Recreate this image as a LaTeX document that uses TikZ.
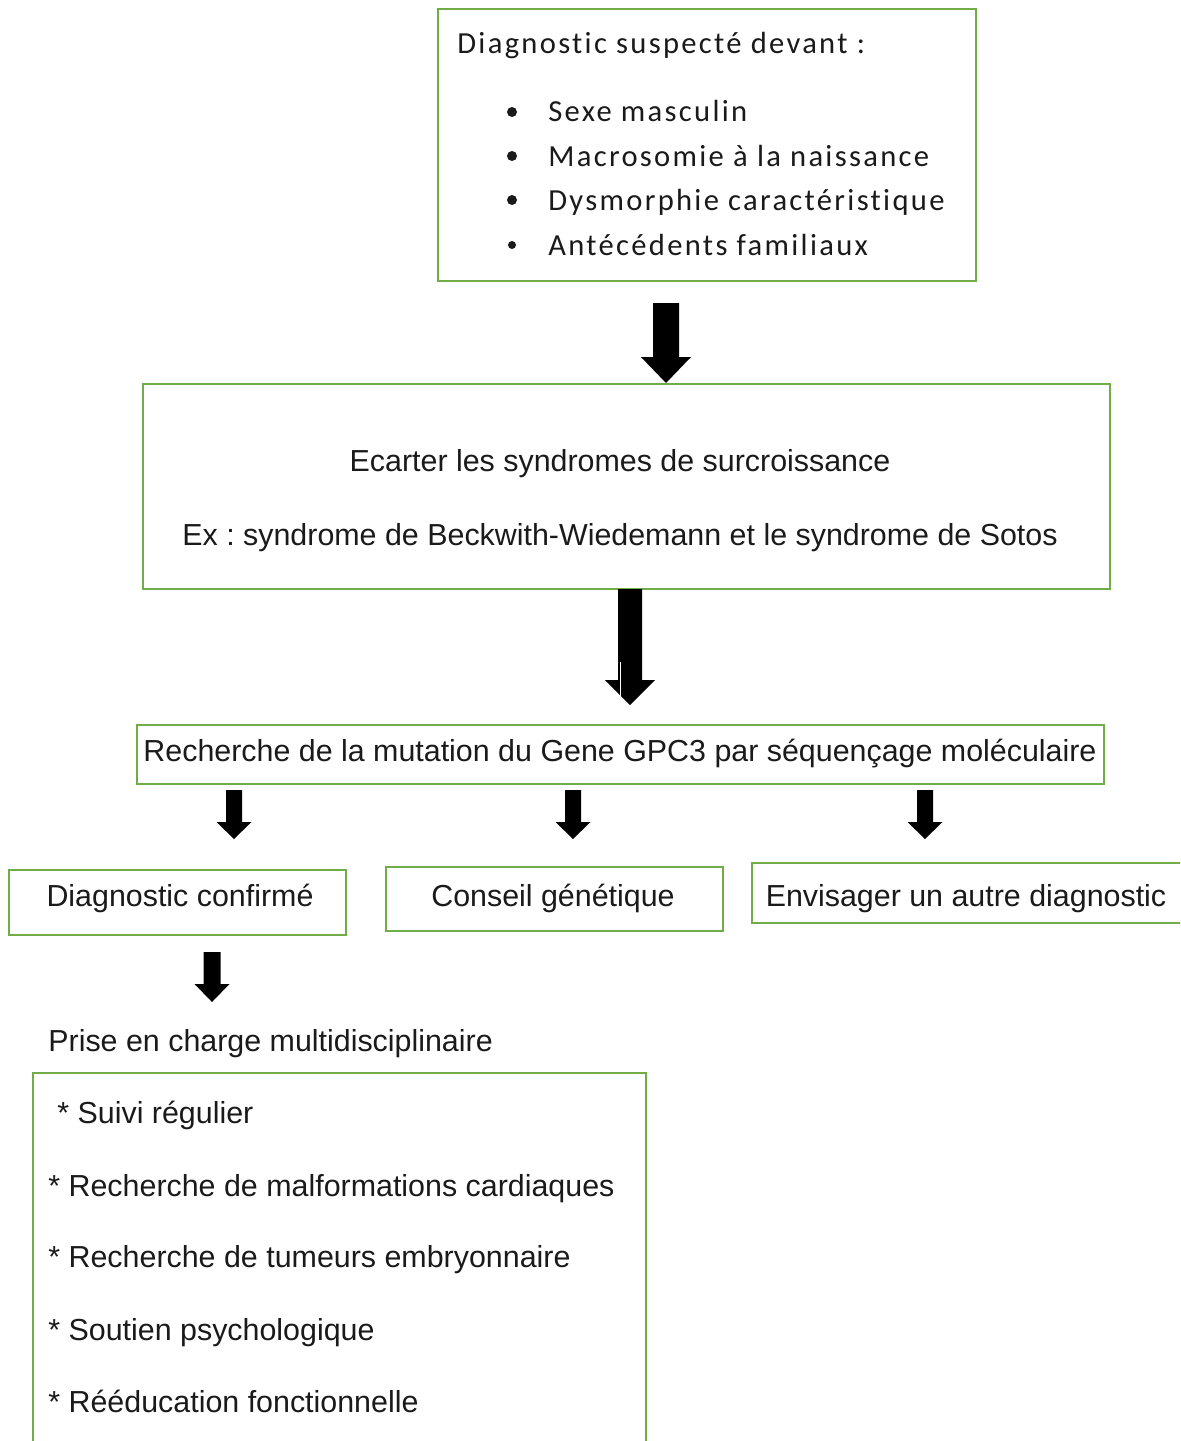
\documentclass[tikz,border=0pt]{standalone}
\usepackage{fontspec}
\setmainfont{Liberation Sans}
\newfontfamily\calibri[LetterSpace=7.5,Ligatures=NoCommon]{Carlito}
\frenchspacing
\usetikzlibrary{fit,calc}
\definecolor{boxgreen}{HTML}{70AD47}
\definecolor{ink}{HTML}{1A1A1A}
\tikzset{
  gbox/.style={draw=boxgreen, line width=1pt, inner sep=0pt},
  txt/.style={inner sep=0pt, text=ink, font=\fontsize{15.2}{17}\selectfont},
  ctxt/.style={inner sep=0pt, text=ink, font=\calibri\fontsize{15.3}{18}\selectfont},
  bullet/.style={circle, fill=ink, inner sep=0pt, minimum size=#1},
}
% block arrow: start, tip, half shaft width, half head width, head length
\newcommand\blockarrow[5]{%
  \fill[black] let \p1=(#1), \p2=(#2) in
    (\x1-#3,\y1) -- (\x1+#3,\y1) -- (\x1+#3,\y2+#5) -- (\x1+#4,\y2+#5)
    -- (\x1,\y2) -- (\x1-#4,\y2+#5) -- (\x1-#3,\y2+#5) -- cycle;}
\begin{document}
\begin{tikzpicture}[x=0.5pt,y=-0.5pt]
\useasboundingbox (0,0) rectangle (1180,1441);
\clip (0,0) rectangle (1180,1441);

% suspected diagnosis
\node[gbox, fit={(438,9) (976,281)}] (susp) {};
\node[ctxt, anchor=base west] (susph) at (457,53) {Diagnostic suspecté devant :};
\node[bullet=5pt] (b1) at (512,112) {};
\node[bullet=5pt] (b2) at (512,156) {};
\node[bullet=5pt] (b3) at (512,200) {};
\node[bullet=4pt] (b4) at (512,245) {};
\node[ctxt, anchor=base west] (s1) at (548,121) {Sexe masculin};
\node[ctxt, anchor=base west] (s2) at (548,166) {Macrosomie à la naissance};
\node[ctxt, anchor=base west] (s3) at (548,210) {Dysmorphie caractéristique};
\node[ctxt, anchor=base west] (s4) at (548,255) {Antécédents familiaux};

% exclusion of overgrowth syndromes
\node[gbox, fit={(143,384) (1110,589)}] (excl) {};
\node[txt, anchor=base] (excl1) at (620,471) {Ecarter les syndromes de surcroissance};
\node[txt, anchor=base] (excl2) at (620,545) {Ex : syndrome de Beckwith-Wiedemann et le syndrome de Sotos};

% molecular search
\node[gbox, fit={(137,725) (1104,784)}] (gpc) {};
\node[txt, anchor=base] (gpct) at (620,761) {Recherche de la mutation du Gene GPC3 par séquençage moléculaire};

% outcomes
\node[gbox, fit={(9,870) (346,935)}] (conf) {};
\node[txt, anchor=base] (conft) at (180,906) {Diagnostic confirmé};
\node[gbox, fit={(386,867) (723,931)}] (cons) {};
\node[txt, anchor=base] (const) at (553,906) {Conseil génétique};
\node[gbox, fit={(752,863) (1200,923)}] (autre) {};
\node[txt, anchor=base] (autret) at (966,906) {Envisager un autre diagnostic};

% care
\node[txt, anchor=base west] (prise) at (48,1051) {Prise en charge multidisciplinaire};
\node[gbox, fit={(33,1073) (646,1470)}] (care) {};
\node[txt, anchor=base west] (c1) at (57,1123) {* Suivi régulier};
\node[txt, anchor=base west] (c2) at (48,1196) {* Recherche de malformations cardiaques};
\node[txt, anchor=base west] (c3) at (48,1267) {* Recherche de tumeurs embryonnaire};
\node[txt, anchor=base west] (c4) at (48,1340) {* Soutien psychologique};
\node[txt, anchor=base west] (c5) at (48,1412) {* Rééducation fonctionnelle};

% arrows
\coordinate (a1s) at (666,303);  \coordinate (a1e) at (666,383);
\coordinate (a2s) at (630,589);  \coordinate (a2e) at (630,705);
\coordinate (a3s) at (234,790);  \coordinate (a3e) at (234,839);
\coordinate (a4s) at (573,790);  \coordinate (a4e) at (573,839);
\coordinate (a5s) at (925,790);  \coordinate (a5e) at (925,839);
\coordinate (a6s) at (212,952);  \coordinate (a6e) at (212,1002);
\blockarrow{a1s}{a1e}{6.5pt}{12.5pt}{13pt}
\blockarrow{a2s}{a2e}{6pt}{12.5pt}{12.5pt}
\draw[white, line width=0.5pt] (620,662) -- (620,702);
\blockarrow{a3s}{a3e}{4pt}{8.75pt}{8.5pt}
\blockarrow{a4s}{a4e}{4pt}{8.75pt}{8.5pt}
\blockarrow{a5s}{a5e}{4pt}{8.75pt}{8.5pt}
\blockarrow{a6s}{a6e}{4.25pt}{8.75pt}{9pt}
\end{tikzpicture}
\end{document}
